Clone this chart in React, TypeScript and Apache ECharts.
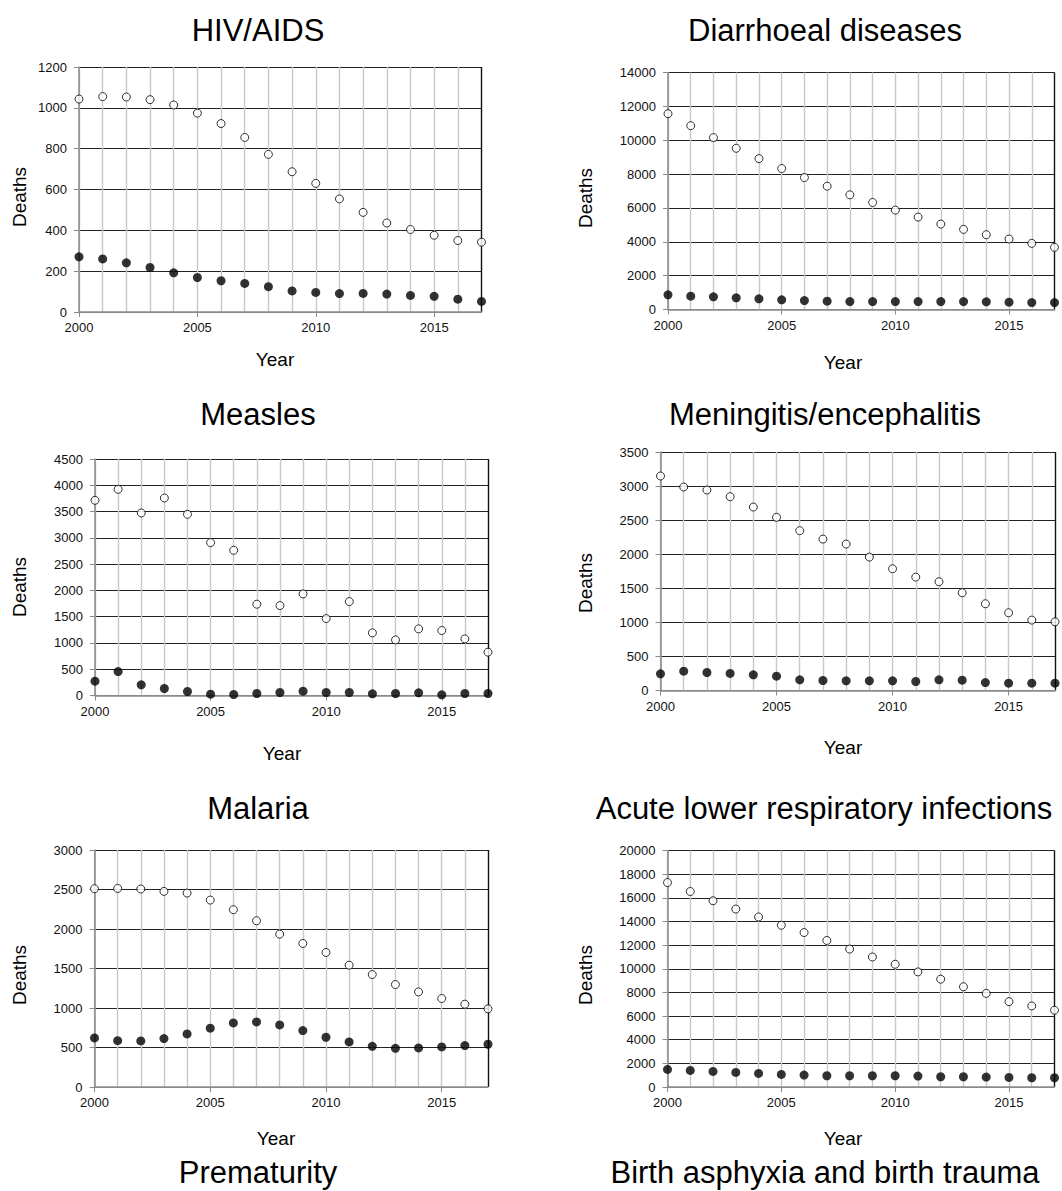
import React, { useEffect, useRef } from 'react';
import * as echarts from 'echarts';

const years = ['2000','2001','2002','2003','2004','2005','2006','2007','2008','2009','2010','2011','2012','2013','2014','2015','2016','2017'];

const hivOpen = [1043,1055,1053,1040,1014,974,923,855,772,687,630,554,488,436,404,376,350,342];
const hivFilled = [270,260,241,218,192,169,153,140,124,103,96,90,91,88,81,77,63,52];

const diarOpen = [11565,10858,10151,9523,8914,8325,7795,7285,6774,6322,5871,5458,5046,4732,4418,4163,3907,3672];
const diarFilled = [864,785,746,687,628,569,530,491,471,471,471,471,471,471,452,432,412,412];

const measOpen = [3714,3923,3473,3758,3448,2909,2763,1737,1711,1933,1464,1787,1192,1058,1268,1236,1077,824];
const measFilled = [273,456,203,133,76,25,19,38,57,82,57,57,32,38,51,13,38,38];

const meninOpen = [3148,2986,2942,2844,2692,2541,2345,2222,2149,1958,1787,1664,1596,1434,1273,1141,1033,1008];
const meninFilled = [245,284,264,250,230,210,157,147,142,142,142,132,157,152,117,108,108,108];

const malOpen = [2510,2514,2506,2476,2455,2366,2244,2104,1935,1817,1703,1542,1424,1297,1204,1120,1048,989];
const malFilled = [621,587,583,613,672,744,811,824,786,714,630,570,515,490,494,507,524,541];

const alriOpen = [17287,16531,15748,15049,14378,13678,13063,12392,11664,10993,10378,9734,9119,8476,7916,7217,6853,6490];
const alriFilled = [1483,1399,1315,1231,1147,1063,1007,951,951,951,951,923,867,867,839,811,783,783];

const titles = ['HIV/AIDS', 'Diarrhoeal diseases', 'Measles', 'Meningitis/encephalitis', 'Malaria', 'Acute lower respiratory infections'];
const yMax = [1200, 14000, 4500, 3500, 3000, 20000];
const yStep = [200, 2000, 500, 500, 500, 2000];
const openSeries = [hivOpen, diarOpen, measOpen, meninOpen, malOpen, alriOpen];
const filledSeries = [hivFilled, diarFilled, measFilled, meninFilled, malFilled, alriFilled];
const nextTitles = ['Prematurity', 'Birth asphyxia and birth trauma'];

// layout (positions only)
const layout = [
  { left: 79, top: 67, width: 402.5, height: 245, tx: 258, ty: 30, dx: 19, dy: 197, yx: 275, yy: 359 },
  { left: 668, top: 72.5, width: 386.5, height: 237, tx: 825, ty: 30, dx: 585, dy: 198, yx: 843, yy: 362 },
  { left: 95, top: 459, width: 393, height: 236.5, tx: 258, ty: 414, dx: 19, dy: 587, yx: 282, yy: 753 },
  { left: 660.5, top: 452, width: 394.5, height: 238.5, tx: 825, ty: 414, dx: 585, dy: 583, yx: 843, yy: 747 },
  { left: 94.5, top: 850, width: 393.5, height: 237, tx: 258, ty: 808, dx: 19, dy: 975, yx: 276, yy: 1138 },
  { left: 667.5, top: 850.5, width: 387, height: 236.5, tx: 824, ty: 808, dx: 585, dy: 975, yx: 843, yy: 1138 },
];
const nextTitlePos = [{ x: 258, y: 1172 }, { x: 825, y: 1172 }];

const FONT = '"Liberation Sans", Arial, sans-serif';

function buildOption() {
  const grid: any[] = [];
  const xAxis: any[] = [];
  const yAxis: any[] = [];
  const series: any[] = [];
  const graphic: any[] = [];
  const show5 = (_i: number, v: string) => Number(v) % 5 === 0;
  const xSplitColors = years.map((_, i) => (i === years.length - 1 ? '#111' : '#c8c8c8'));

  titles.forEach((t, i) => {
    const L = layout[i];
    grid.push({ left: L.left, top: L.top, width: L.width, height: L.height, containLabel: false });
    xAxis.push({
      type: 'category',
      gridIndex: i,
      data: years,
      boundaryGap: false,
      axisLine: { show: true, lineStyle: { color: '#8a8a8a', width: 1.5 } },
      axisTick: { show: true, interval: show5, length: 5, lineStyle: { color: '#8a8a8a', width: 1 } },
      axisLabel: { interval: show5, margin: 9, fontSize: 13, color: '#111', fontFamily: FONT },
      splitLine: { show: true, interval: 0, lineStyle: { color: xSplitColors, width: 1.4 } },
    });
    const nTicks = yMax[i] / yStep[i] + 1;
    const ySplitColors = Array.from({ length: nTicks }, (_, k) => (k === 0 ? '#8a8a8a' : '#222'));
    yAxis.push({
      type: 'value',
      gridIndex: i,
      min: 0,
      max: yMax[i],
      interval: yStep[i],
      axisLine: { show: true, lineStyle: { color: '#8a8a8a', width: 1.5 } },
      axisTick: { show: true, length: 5, lineStyle: { color: '#8a8a8a', width: 1 } },
      axisLabel: { margin: 12, fontSize: 13, color: '#111', fontFamily: FONT, formatter: (v: number) => String(v) },
      splitLine: { show: true, lineStyle: { color: ySplitColors, width: 1.1 } },
    });
    series.push({
      type: 'scatter',
      xAxisIndex: i,
      yAxisIndex: i,
      data: openSeries[i],
      symbol: 'circle',
      symbolSize: 8,
      clip: false,
      itemStyle: { color: '#fff', borderColor: '#000', borderWidth: 1 },
      z: 3,
    });
    series.push({
      type: 'scatter',
      xAxisIndex: i,
      yAxisIndex: i,
      data: filledSeries[i],
      symbol: 'circle',
      symbolSize: 9,
      clip: false,
      itemStyle: { color: '#000' },
      z: 3,
    });
    graphic.push({
      type: 'text', x: L.tx, y: L.ty,
      style: { text: t, font: `31px ${FONT}`, fill: '#000', textAlign: 'center', textVerticalAlign: 'middle' },
    });
    graphic.push({
      type: 'text', x: L.dx, y: L.dy, rotation: Math.PI / 2,
      style: { text: 'Deaths', font: `19px ${FONT}`, fill: '#000', textAlign: 'center', textVerticalAlign: 'middle' },
    });
    graphic.push({
      type: 'text', x: L.yx, y: L.yy,
      style: { text: 'Year', font: `19px ${FONT}`, fill: '#000', textAlign: 'center', textVerticalAlign: 'middle' },
    });
  });
  nextTitles.forEach((t, i) => {
    graphic.push({
      type: 'text', x: nextTitlePos[i].x, y: nextTitlePos[i].y,
      style: { text: t, font: `31px ${FONT}`, fill: '#000', textAlign: 'center', textVerticalAlign: 'middle' },
    });
  });

  return {
    animation: false,
    backgroundColor: '#fff',
    textStyle: { fontFamily: FONT },
    grid,
    xAxis,
    yAxis,
    series,
    graphic,
  };
}

export default function App() {
  const ref = useRef<HTMLDivElement>(null);
  useEffect(() => {
    if (!ref.current) return;
    const chart = echarts.init(ref.current, null, { renderer: 'svg' });
    chart.setOption(buildOption());
    return () => chart.dispose();
  }, []);
  return (
    <div
      ref={ref}
      style={{ position: 'absolute', left: 0, top: 0, width: 1062, height: 1191, background: '#fff' }}
    />
  );
}
